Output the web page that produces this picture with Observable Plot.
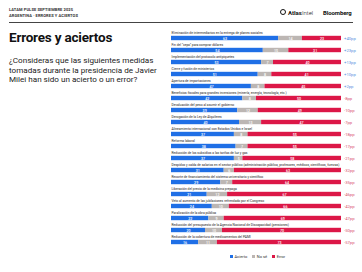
<!DOCTYPE html>
<html><head><meta charset="utf-8">
<script src="https://cdn.jsdelivr.net/npm/d3@7"></script>
<script src="https://cdn.jsdelivr.net/npm/@observablehq/plot@0.6"></script>
<style>
html,body{margin:0;padding:0;background:#fff;}
#wrap{position:relative;width:362px;height:272px;overflow:hidden;font-family:Roboto,"Noto Sans",sans-serif;color:#1a1a1a;}
#chart{position:absolute;left:0;top:0;}
.abs{position:absolute;z-index:2;white-space:nowrap;}
.hdr{font-size:4px;font-weight:700;letter-spacing:0.1px;color:#333;}
#title{left:9px;top:29px;font-size:13.5px;font-weight:700;letter-spacing:-0.2px;color:#111;}
#sub{left:9px;top:56px;font-size:8.1px;line-height:9.7px;color:#222;white-space:normal;width:165px;}
#rule{left:9px;top:21.5px;width:344px;height:0.8px;background:#444;}
#legend{top:253.5px;left:230px;font-size:4px;color:#333;display:flex;gap:5px;align-items:center;}
#legend span.sw{display:inline-block;width:3px;height:3px;margin-right:1.5px;vertical-align:middle;}
</style></head>
<body>
<div id="wrap">
  <div class="abs hdr" style="left:9px;top:7px;">LATAM PULSE SEPTIEMBRE 2025</div>
  <div class="abs hdr" style="left:9px;top:13px;">ARGENTINA · ERRORES Y ACIERTOS</div>
  <div class="abs" id="rule"></div>
  <div class="abs" style="left:280px;top:9px;width:4px;height:4px;border:1.3px solid #111;border-radius:50%;"></div>
  <div class="abs" style="left:288px;top:8.5px;font-size:6px;color:#111;"><b>Atlas</b><span style="font-weight:300">Intel</span></div>
  <div class="abs" style="left:323px;top:8.5px;font-size:6px;font-weight:700;color:#111;letter-spacing:-0.1px;">Bloomberg</div>
  <div class="abs" id="title">Errores y aciertos</div>
  <div class="abs" id="sub">¿Consideras que las siguientes medidas tomadas durante la presidencia de Javier Milei han sido un acierto o un error?</div>
  <div id="chart"></div>
  <div class="abs" id="legend"></div>
</div>
<script>
const measures = [
  "Eliminación de intermediarios en la entrega de planes sociales",
  "Fin del \"cepo\" para comprar dólares",
  "Implementación del protocolo antipiquetes",
  "Cierre y fusión de ministerios",
  "Apertura de importaciones",
  "Beneficios fiscales para grandes inversiones (minería, energía, tecnología, etc.)",
  "Devaluación del peso al asumir el gobierno",
  "Derogación de la Ley de Alquileres",
  "Alineamiento internacional con Estados Unidos e Israel",
  "Reforma laboral",
  "Reducción de los subsidios a las tarifas de luz y gas",
  "Despidos y caída de salarios en el sector público (administración pública, profesores, médicos, científicos, fuerzas)",
  "Recorte de financiamiento del sistema universitario y científico",
  "Liberación del precio de la medicina prepaga",
  "Veto al aumento de las jubilaciones refrendado por el Congreso",
  "Paralización de la obra pública",
  "Reducción del presupuesto de la Agencia Nacional de Discapacidad (pensiones)",
  "Reducción de la cobertura de medicamentos del PAMI"
];
const acierto = [63, 54, 53, 51, 47, 42, 39, 40, 37, 38, 37, 31, 29, 21, 24, 22, 20, 16];
const noSe    = [14, 15,  7,  8,  8,  8, 12, 13,  8,  7,  5,  6,  7, 12, 10,  9, 10, 11];
const error   = [23, 31, 40, 41, 45, 50, 49, 47, 55, 55, 58, 63, 64, 67, 66, 69, 70, 73];
const netLabels = ["+40pp","+23pp","+13pp","+10pp","+2pp","-8pp","-10pp","-7pp","-18pp","-17pp","-21pp","-32pp","-35pp","-46pp","-42pp","-47pp","-50pp","-57pp"];
const answers = ["Acierto", "No sé", "Error"];
const colors = ["#1f6fe6", "#bcb6b3", "#dc1747"];

const series = [acierto, noSe, error];
const rows = [];
measures.forEach((m, i) => answers.forEach((a, j) => rows.push({measure: m, answer: a, value: series[j][i]})));
const netSign = netLabels.map(s => s.startsWith("+") ? "pos" : "neg");

const plot = Plot.plot({
  width: 362, height: 272,
  marginLeft: 171, marginRight: 21, marginTop: 28.4, marginBottom: 21.3,
  style: {background: "transparent", fontFamily: "Roboto, 'Noto Sans', sans-serif"},
  x: {domain: [0, 100], axis: null},
  y: {domain: measures, axis: null, padding: 0},
  color: {domain: answers, range: colors},
  marks: [
    Plot.barX(rows, Plot.stackX({x: "value", y: "measure", fill: "answer", order: answers, insetTop: 3.8, insetBottom: 3.8})),
    Plot.text(rows, Plot.stackX({x: "value", y: "measure", z: "answer", order: answers, text: d => d.value, fill: "white", fontSize: 3.6, fontWeight: 500})),
    Plot.text(measures, {x: () => 0, y: d => d, text: d => d, textAnchor: "start", dy: -5.9, fontSize: 3.3, fill: "#222"}),
    Plot.text(measures, {x: () => 100, y: d => d, text: (d, i) => netLabels[i], textAnchor: "start", dx: 2.5, fontSize: 4.2,
      fill: (d, i) => netSign[i] === "pos" ? "#5a8fe0" : "#d9506f"})
  ]
});
document.getElementById("chart").appendChild(plot);

const lg = document.getElementById("legend");
answers.forEach((a, j) => {
  const it = document.createElement("span");
  it.innerHTML = `<span class="sw" style="background:${colors[j]}"></span>${a}`;
  lg.appendChild(it);
});
</script>
</body></html>
